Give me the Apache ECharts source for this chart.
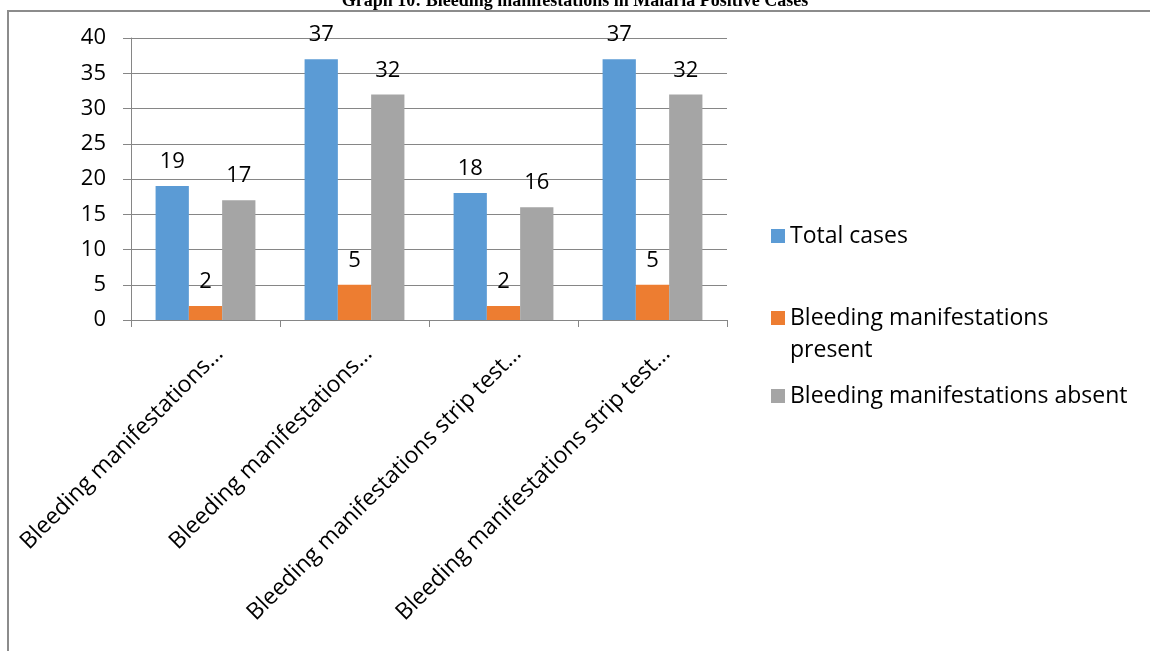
<!DOCTYPE html>
<html lang="en">

<head>
    <meta charset="utf-8">
    <title>Graph 10: Bleeding manifestations in Malaria Positive Cases</title>
    <script src="https://cdn.jsdelivr.net/npm/echarts@6/dist/echarts.min.js"></script>
    <style>
        html, body { margin: 0; padding: 0; background: #fff; }
        #main { width: 1150px; height: 651px; }
    </style>
</head>

<body>
    <div id="main"></div>
    <script type="text/javascript">
        var categories = [
            'Bleeding manifestations…',
            'Bleeding manifestations…',
            'Bleeding manifestations strip test…',
            'Bleeding manifestations strip test…'
        ];
        var totalCases = [19, 37, 18, 37];
        var bleedPresent = [2, 5, 2, 5];
        var bleedAbsent = [17, 32, 16, 32];
        var seriesNames = ['Total cases', 'Bleeding manifestations present', 'Bleeding manifestations absent'];
        var colors = ['#5B9BD5', '#ED7D31', '#A5A5A5'];

        var font = '"Open Sans", "Noto Sans", sans-serif';
        var myChart = echarts.init(document.getElementById('main'));

        function barLabel() {
            return { show: true, position: 'top', distance: 13, color: '#000', fontSize: 22, fontFamily: font };
        }

        // one legend per item so each can sit where the original has it
        function legendAt(name, top, shortText) {
            return {
                data: [name],
                left: 771,
                top: top,
                padding: 0,
                orient: 'vertical',
                icon: 'rect',
                itemWidth: 14,
                itemHeight: 14,
                selectedMode: false,
                formatter: function (n) {
                    return shortText || n;
                },
                textStyle: { fontSize: 23, fontFamily: font, color: '#000', lineHeight: 32 }
            };
        }

        var option = {
            animation: false,
            color: colors,
            title: {
                text: 'Graph 10: Bleeding manifestations in Malaria Positive Cases',
                left: 'center',
                top: -13,
                textStyle: { fontFamily: '"Liberation Serif", "DejaVu Serif", serif', fontWeight: 'bold', fontSize: 18, color: '#000' }
            },
            graphic: [{
                type: 'rect',
                shape: { x: 8, y: 11, width: 1200, height: 700 },
                style: { fill: 'none', stroke: '#8c8c8c', lineWidth: 2 },
                silent: true
            }, {
                // second line of the wrapped legend entry
                type: 'text',
                left: 790,
                top: 339,
                style: { text: 'present', font: '23px ' + font, fill: '#000' },
                silent: true
            }],
            legend: [
                legendAt(seriesNames[0], 220),
                legendAt(seriesNames[1], 302, 'Bleeding manifestations'),
                legendAt(seriesNames[2], 380)
            ],
            grid: { left: 131, right: 423, top: 38, bottom: 331, containLabel: false },
            xAxis: {
                type: 'category',
                data: categories,
                axisLine: { lineStyle: { color: '#868686', width: 1 } },
                axisTick: { show: true, length: 7, lineStyle: { color: '#868686' } },
                axisLabel: {
                    rotate: 45,
                    interval: 0,
                    margin: 16,
                    verticalAlign: 'top',
                    lineHeight: 40,
                    color: '#000',
                    fontSize: 23,
                    fontFamily: font
                }
            },
            yAxis: {
                type: 'value',
                min: 0,
                max: 40,
                interval: 5,
                axisLine: { show: true, lineStyle: { color: '#868686' } },
                axisTick: { show: true, length: 8, lineStyle: { color: '#868686' } },
                splitLine: { lineStyle: { color: '#868686', width: 1 } },
                axisLabel: { color: '#000', fontSize: 22, fontFamily: font, margin: 25 }
            },
            series: [
                { name: seriesNames[0], type: 'bar', data: totalCases, barGap: '0%', barCategoryGap: '33%', label: barLabel() },
                { name: seriesNames[1], type: 'bar', data: bleedPresent, barGap: '0%', barCategoryGap: '33%', label: barLabel() },
                { name: seriesNames[2], type: 'bar', data: bleedAbsent, barGap: '0%', barCategoryGap: '33%', label: barLabel() }
            ]
        };

        myChart.setOption(option);
    </script>
</body>

</html>
